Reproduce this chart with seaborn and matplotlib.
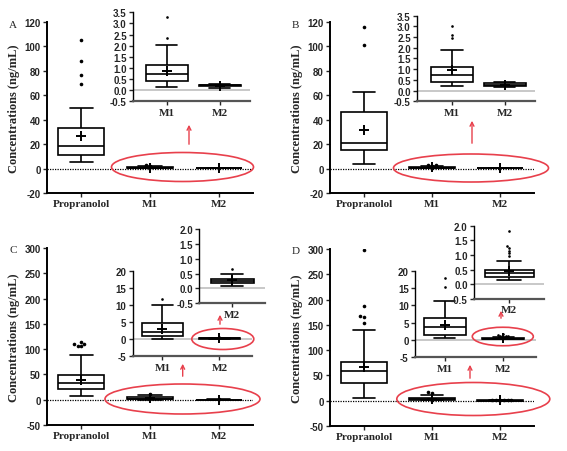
import numpy as np
import pandas as pd
import matplotlib
matplotlib.use("Agg")
import matplotlib.pyplot as plt
from matplotlib.patches import Ellipse, FancyArrowPatch
from matplotlib.ticker import FormatStrFormatter
import seaborn as sns

# ===================== data =====================
# box summaries: [lower whisker, Q1, median, Q3, upper whisker]
groups = ["Propranolol", "M1", "M2"]

A_prop = [5, 11.5, 18.4, 33.5, 50]
A_m1 = [0.13, 0.39, 0.73, 1.11, 2.02]
A_m2 = [0.10, 0.20, 0.23, 0.25, 0.27]
A_means = [26.3, 0.87, 0.20]
A_prop_out = [69.5, 77, 88, 105]
A_m1_out = [2.36, 3.3]
A_m2_out = []

B_prop = [3.5, 15, 21, 46.5, 63]
B_m1 = [0.20, 0.39, 0.73, 1.11, 1.88]
B_m2 = [0.15, 0.22, 0.28, 0.36, 0.40]
B_means = [31.8, 0.97, 0.28]
B_prop_out = [101, 116]
B_m1_out = [2.45, 2.6, 3.0]
B_m2_out = []

C_prop = [8, 21, 33, 49, 89]
C_m1 = [0.1, 0.9, 2.1, 4.9, 10.2]
C_m2 = [0.09, 0.17, 0.24, 0.33, 0.49]
C_means = [39.5, 3.0, 0.28]
C_prop_out = [106, 107, 110, 111, 115]
C_m1_out = [11.9]
C_m2_out = [0.65]

D_prop = [6, 36, 58, 77.5, 139]
D_m1 = [0.48, 1.44, 3.65, 6.35, 11.25]
D_m2 = [0.16, 0.25, 0.375, 0.50, 0.78]
D_means = [67, 4.3, 0.44]
D_prop_out = [153, 166, 168, 187, 298]
D_m1_out = [15.2, 17.8]
D_m2_out = [0.96, 1.06, 1.15, 1.24, 1.30, 1.82]

# ===================== style =====================
sns.set_style("ticks")
plt.rcParams["axes.unicode_minus"] = False
SANS = "Liberation Sans"
SERIF = "Liberation Serif"
RED = "#e8404c"

W, H = 567, 452
fig = plt.figure(figsize=(W / 100, H / 100), dpi=100)


def px_axes(left, top, right, bottom):
    return fig.add_axes([left / W, 1 - bottom / H, (right - left) / W, (bottom - top) / H])


def draw_boxes(ax, names, boxes, means, outliers, width, plus=7.5, dot=2.4, fill="white"):
    box_df = pd.DataFrame({"group": np.repeat(names, 5), "value": np.concatenate(boxes)})
    sns.boxplot(data=box_df, x="group", y="value", order=names, whis=(0, 100),
                showfliers=False, width=width, color=fill, linecolor="black",
                linewidth=1.2, saturation=1, ax=ax)
    counts = [len(o) for o in outliers]
    if sum(counts):
        out_df = pd.DataFrame({"group": np.repeat(names, counts),
                               "value": np.concatenate([np.asarray(o, float) for o in outliers])})
        sns.swarmplot(data=out_df, x="group", y="value", order=names, color="black",
                      size=dot, ax=ax)
    sns.stripplot(x=names, y=means, order=names, marker="+", size=plus, color="black",
                  edgecolor="black", linewidth=1.4, jitter=False, ax=ax)


def style_axes(ax, ylim, ystep, fmt=None, inset=False):
    ax.set_ylim(*ylim)
    ax.set_yticks(np.arange(ylim[0], ylim[1] + ystep / 2, ystep))
    if fmt:
        ax.yaxis.set_major_formatter(FormatStrFormatter(fmt))
    ax.set_xlabel("")
    ax.set_ylabel("")
    sns.despine(ax=ax)
    ax.patch.set_alpha(0)
    ax.spines["left"].set_linewidth(1.0 if inset else 1.4)
    ax.spines["left"].set_color("black")
    ax.spines["bottom"].set_linewidth(1.6 if inset else 1.4)
    ax.spines["bottom"].set_color("#555555" if inset else "black")
    ax.tick_params(axis="both", length=3, width=1.0, pad=1.5, labelsize=7)
    for lbl in ax.get_yticklabels():
        lbl.set_fontfamily(SANS)
        lbl.set_fontweight("bold")
    for lbl in ax.get_xticklabels():
        lbl.set_fontfamily(SERIF)
        lbl.set_fontweight("bold")
        lbl.set_fontsize(8)


def main_panel(rect, letter, boxes, means, outs, ylim, ystep):
    ax = px_axes(*rect)
    ax.axhline(0, color="black", lw=0.9, ls=(0, (1, 1)), zorder=0)
    draw_boxes(ax, groups, boxes, means, outs, width=0.67, dot=2.6)
    ax.set_xlim(-0.5, 2.5)
    style_axes(ax, ylim, ystep)
    ax.set_ylabel("Concentrations (ng/mL)", fontfamily=SERIF, fontweight="bold",
                  fontsize=9, labelpad=3)
    fig.text((rect[0] - 38) / W, 1 - (rect[1] + 2) / H, letter, fontfamily=SERIF,
             fontsize=8, va="center")
    return ax


def inset_panel(rect, names, boxes, means, outs, xlim, ylim, ystep, fmt, width,
                fill="white"):
    ax = px_axes(*rect)
    ax.axhline(0, color="#c8c8c8", lw=1.4, zorder=0)
    draw_boxes(ax, names, boxes, means, outs, width=width, plus=7, dot=1.9, fill=fill)
    ax.set_xlim(*xlim)
    style_axes(ax, ylim, ystep, fmt, inset=True)
    return ax


def ellipse(cx, cy, w, h):
    fig.add_artist(Ellipse((cx / W, 1 - cy / H), w / W, h / H, transform=fig.transFigure,
                           fill=False, edgecolor=RED, lw=1.2))


def arrow(x, y0, y1):
    fig.add_artist(FancyArrowPatch((x / W, 1 - y0 / H), (x / W, 1 - y1 / H),
                                   transform=fig.transFigure, arrowstyle="->",
                                   mutation_scale=7, color=RED, lw=1.0))


# ----- A -----
main_panel((47, 23, 253, 194), "A", [A_prop, A_m1, A_m2], A_means,
           [A_prop_out, A_m1_out, A_m2_out], (-20, 120), 20)
inset_panel((133, 13.3, 250, 102.3), groups[1:], [A_m1, A_m2], A_means[1:],
            [A_m1_out, A_m2_out], (-0.64, 1.57), (-0.5, 3.5), 0.5, "%.1f", 0.8)
ellipse(182.5, 168, 142, 29)
arrow(189, 148, 123)

# ----- B -----
main_panel((330, 23, 534, 194), "B", [B_prop, B_m1, B_m2], B_means,
           [B_prop_out, B_m1_out, B_m2_out], (-20, 120), 20)
inset_panel((417, 16.5, 535, 102.3), groups[1:], [B_m1, B_m2], B_means[1:],
            [B_m1_out, B_m2_out], (-0.66, 1.57), (-0.5, 3.5), 0.5, "%.1f", 0.8)
ellipse(471, 169, 155, 28)
arrow(472, 147, 119)

# ----- C -----
main_panel((47, 249, 253, 426), "C", [C_prop, C_m1, C_m2], C_means,
           [C_prop_out, C_m1_out, C_m2_out], (-50, 300), 50)
inset_panel((132.7, 272.3, 252, 357.3), groups[1:], [C_m1, C_m2], C_means[1:],
            [C_m1_out, C_m2_out], (-0.52, 1.57), (-5, 20), 5, None, 0.72)
inset_panel((199.3, 230, 265, 304.3), ["M2"], [C_m2], C_means[2:],
            [C_m2_out], (-0.5, 0.5), (-0.5, 2.0), 0.5, "%.1f", 0.65, fill="#dcdcdc")
ellipse(182.5, 400, 155, 30)
arrow(182.7, 380, 362)
ellipse(222.8, 340, 62, 21)
arrow(220, 328, 313)

# ----- D -----
main_panel((330, 250, 534, 427), "D", [D_prop, D_m1, D_m2], D_means,
           [D_prop_out, D_m1_out, D_m2_out], (-50, 300), 50)
inset_panel((415, 271.7, 535.7, 358.3), groups[1:], [D_m1, D_m2], D_means[1:],
            [D_m1_out, D_m2_out], (-0.51, 1.56), (-5, 20), 5, None, 0.72)
inset_panel((474, 226.7, 544, 300), ["M2"], [D_m2], D_means[2:],
            [D_m2_out], (-0.5, 0.5), (-0.5, 2.0), 0.5, "%.1f", 0.7)
ellipse(473.3, 400, 153, 33)
arrow(470, 382, 363)
ellipse(502.8, 337.5, 61, 18.5)
arrow(501, 322, 309)

fig.savefig("out.png", dpi=100)
